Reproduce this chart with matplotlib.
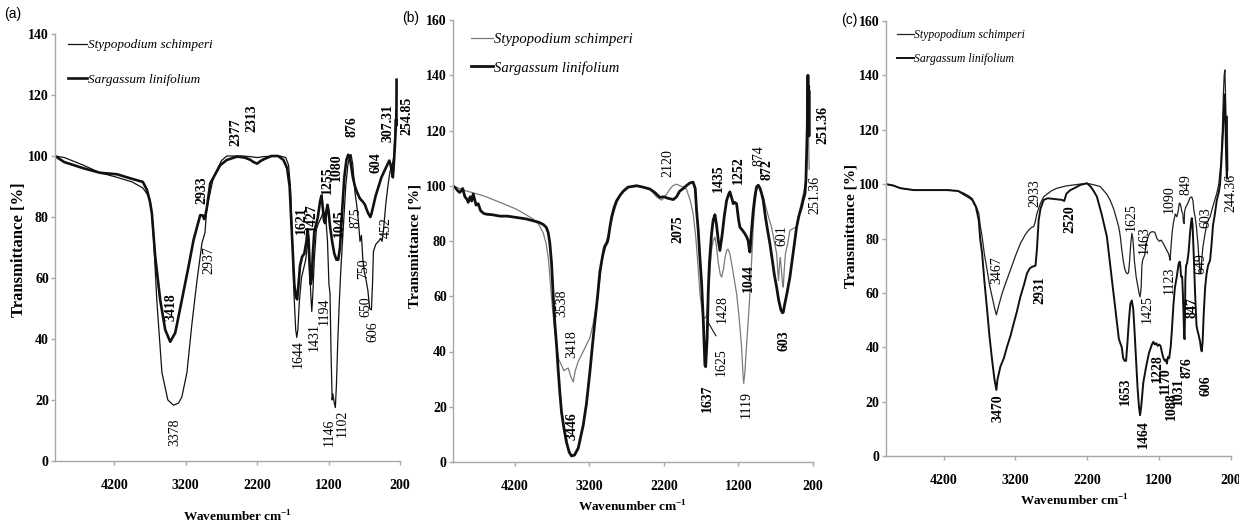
import matplotlib
matplotlib.use("Agg")
import matplotlib.pyplot as plt
from matplotlib.lines import Line2D
from matplotlib import font_manager as fm

plt.rcParams["mathtext.fontset"] = "custom"
plt.rcParams["mathtext.rm"] = "Liberation Serif"
plt.rcParams["mathtext.bf"] = "Liberation Serif:bold"

# ---------------- data (wavenumber cm-1, transmittance %) ----------------
a_sty_wn = [5030,4900,4634,4400,4160,3950,3800,3724,3680,3650,3603,3533,3450,3371,3300,3254,3183,3113,3043,2973,2941,2930,2904,2811,2700,2624,2400,2300,2200,2100,1950,1880,1800,1760,1735,1710,1685,1660,1645,1630,1610,1580,1550,1520,1490,1470,1450,1435,1420,1400,1370,1340,1300,1270,1240,1215,1195,1180,1165,1150,1140,1120,1105,1090,1070,1050,1030,1010,990,960,930,905,885,860,830,806,780,760,740,720,700,680,650,625,600,585,572,540,500,470,452,430,400,370,340,320,300,285,270,262,255,252]
a_sty_T = [100,99.5,97,94.5,93,91.5,89.5,87,83,73,52,29,20,18.3,19,21,29,45,59,71.4,74,75,83,93,98.5,100,100,99.8,99.5,99.8,100,100,99.5,97,90,75,55,43,40.5,43,52,60,63,66,72,67,55,49,55,66,76,78,80,82,80,72,58,55,35,20,22,19,17.5,25,40,52,62,70,78,90,97,100,100.5,97,88,84,78,72,74,66,62,60,56,50,49.5,58,68.7,71,72,73,72,76,84,90,95,96,98,100,108,112,115,112]
a_sar_wn = [5030,4900,4634,4400,4160,3950,3800,3743,3700,3673,3627,3557,3487,3417,3347,3254,3161,3091,2997,2960,2941,2925,2904,2857,2717,2624,2483,2377,2300,2250,2200,2150,2100,2000,1906,1832,1780,1745,1725,1700,1680,1660,1640,1620,1600,1570,1540,1510,1495,1480,1465,1450,1435,1420,1400,1380,1350,1320,1300,1285,1265,1250,1230,1215,1200,1180,1150,1120,1090,1065,1040,1010,980,950,925,905,885,860,830,800,760,720,690,660,640,615,600,570,540,500,460,420,380,350,330,315,300,290,280,270,262,256,250,248]
a_sar_T = [100,98,96,94.5,94,92.5,91.5,88.9,85,81,67,52.8,43,39.1,42,52.8,63.7,72.4,80.6,80.5,79.3,80.5,83,91,97,98.7,99.8,99.5,98.8,98,97.5,98.4,99,100,100,98.7,96,90,80,68,58,54,53,58,64,67,68,72,76,73,64,58,60,68,75,77,80,85,87,84,79,78,82,84,82,77,72,68,66,66,70,82,93,98.7,100.4,100,97,93,90,88,86,85,84,82,81,80,81,84,87,90,93,95,97,98.5,97,95,93,96,100,104,108,112,110,125]

b_sty_wn = [5030,4900,4625,4400,4177,4050,3954,3880,3820,3780,3752,3730,3708,3675,3641,3610,3574,3540,3520,3484,3450,3417,3390,3350,3283,3230,3193,3150,3104,3060,3014,2970,2930,2880,2830,2780,2700,2570,2480,2380,2299,2232,2190,2150,2120,2080,2033,1986,1940,1899,1850,1809,1775,1742,1717,1690,1672,1650,1628,1610,1590,1560,1540,1516,1500,1470,1445,1426,1400,1380,1359,1340,1315,1280,1250,1225,1190,1158,1140,1130,1115,1090,1060,1046,1025,1002,980,957,935,910,890,867,840,800,756,720,688,670,662,648,638,625,610,599,585,570,540,510,470,420,380,331,300,286,275,268,262,255,251]
b_sty_T = [100,98.5,96.4,94,91.5,89.5,87.9,86,83,79,74,67,59.4,50,42.4,37,35,33,33.5,34,31,29,33,36.4,40,43,45,50,57,66,77.6,80,84,89.7,94,97,99.5,100,99.5,98.6,96,94.8,96,97.5,98.8,100,100.6,100,99.5,98.8,95,90,82,71,61,55,52.5,52,53,58,67,77,80,81.4,79,72,68,66.9,70,74,76.6,77,75.4,70,65,60.9,52,41.5,32,28.5,32,43,55,61,72,85,93,98.3,100.2,99.5,97.2,96,93,89,85,80,75.4,68,65.7,72,74,70,65,63.3,70,75.4,79,83.8,84.5,85,91,97,101,106,120,138,125,110,106]
b_sar_wn = [5030,4990,4960,4938,4900,4870,4840,4826,4800,4780,4759,4740,4720,4692,4660,4620,4580,4500,4401,4300,4177,4050,3954,3880,3820,3780,3752,3730,3708,3685,3663,3640,3618,3596,3574,3540,3506,3470,3440,3400,3350,3283,3240,3193,3160,3126,3090,3059,3020,2992,2960,2947,2925,2903,2870,2836,2790,2746,2680,2567,2480,2388,2320,2254,2200,2150,2075,2030,1990,1941,1900,1852,1809,1780,1762,1740,1720,1695,1670,1650,1640,1620,1605,1590,1561,1540,1516,1495,1470,1449,1420,1390,1359,1330,1315,1290,1270,1250,1225,1200,1181,1150,1113,1090,1069,1055,1046,1030,1002,980,957,935,910,890,867,840,810,778,740,720,688,660,630,610,599,580,550,510,470,440,420,390,353,330,308,295,285,277,268,262,258,254,251]
b_sar_T = [100,99,98,97.6,99,96,95,94,96,94.5,97,95,93,93.5,91,90,89.7,89.5,89,89,88.5,88,87.3,86.8,86,85,83,79,72,60,50,42,33,25,18,12,7,3.5,2.2,2.5,5,13.3,21,32.7,42,51,60,69,75,78,79.5,81,85,88.5,92,94.5,96.5,98,99.5,100,99.5,98.8,97.5,95.8,96,95.5,95,96,98,99,100,101,101.3,99,91,84,75,65,50,35,34.5,45,62,72,82.6,87.5,89.5,86,80,76.6,82,89,94.7,97,97.8,95.5,93.5,94,93.5,88,85,84,82.6,81.5,80,77,76,82,91,96,99.6,100.2,99,97.2,94.7,89,84,79,72,68,63.3,58.5,55,54,54.2,57,61,66.9,75,81,85,89,92.3,95,97.1,102,112,121,140,125,136,118,134]

c_sty_wn = [5000,4900,4800,4612,4400,4149,4000,3917,3850,3779,3740,3709,3690,3663,3630,3593,3560,3524,3490,3464,3430,3385,3330,3269,3200,3130,3060,3015,2980,2945,2925,2899,2850,2806,2700,2621,2500,2390,2300,2204,2100,2019,1929,1880,1834,1790,1760,1740,1720,1700,1680,1660,1640,1625,1610,1595,1579,1565,1545,1520,1500,1480,1465,1450,1440,1430,1400,1380,1350,1320,1290,1260,1230,1200,1170,1139,1110,1090,1070,1055,1047,1040,1020,1000,975,954,935,920,908,895,885,870,862,852,845,830,800,770,746,730,715,699,680,660,645,630,620,608,590,560,530,491,450,398,370,340,320,306,295,285,278,270,262,257,252,250,245]
c_sty_T = [100,99.5,98.5,97.8,97.8,97.8,97.5,96,95,93.6,91.5,89.3,85,80.7,74,68.4,63,58.6,54.5,51.9,55.5,59.8,64,68.4,73.5,78.2,81.5,83.1,84,84.4,86,89.3,93,95.4,97.5,98.5,99.3,99.7,100,100.3,99.7,99.1,96.3,94,91,87,84,80.7,76,72,69,67.5,67,67.5,72,78,81.9,80,72,66,63,60,58.5,62,70,72,74,78,81,82.3,82.5,82.3,80,79,79.4,78,76.5,75.5,74.5,73,72,75,82,86,89,88,90,93,92.9,91.5,90,89,86,85.5,90,91.5,93,95,95.3,94,90,88,84,78,72,67.1,67.5,72,77,82,86,88,92,96.6,100,108,120,133,140,142,135,120,110,104,125,118,105]
c_sar_wn = [5000,4900,4800,4612,4400,4149,4000,3917,3850,3800,3779,3750,3710,3690,3663,3630,3593,3560,3524,3490,3464,3450,3408,3360,3316,3270,3223,3180,3130,3080,3038,3000,2968,2920,2900,2876,2850,2806,2750,2650,2550,2520,2490,2435,2380,2297,2250,2204,2150,2100,2066,2000,1927,1880,1836,1800,1760,1720,1700,1680,1660,1640,1620,1600,1580,1560,1540,1520,1500,1480,1465,1450,1420,1380,1340,1301,1280,1260,1240,1220,1200,1180,1160,1140,1120,1100,1093,1075,1060,1040,1023,1000,980,954,930,915,905,895,880,870,860,852,846,840,835,825,810,790,770,755,745,735,720,700,680,665,650,630,615,606,595,580,560,540,520,491,470,450,430,398,370,352,330,310,300,290,283,275,268,262,257,255]
c_sar_T = [100,99.5,98.5,97.8,97.8,97.8,97.5,96.5,95.5,94.5,93,91.7,86.8,80,74.6,64,53.7,44,35.3,28,24.3,28,32.9,36,40.2,44,48.8,53,58.6,63,67.2,69,69.6,70,76,86.8,91,94.2,94.8,94.5,94.2,93.8,96.5,97.8,98.5,99.7,100,100.3,99,97,95.4,89,80.7,70,60,52,43,40,36,35,35,42,50,56,57.2,54,45,35,25,18,15,18,27,33,38,41,42,41,41.5,40.5,41,40.5,38,36,35,35.5,34,36.5,36,40,46,56,62,66,70.5,71.5,70,66,66,60,52,44,43,52,65,70,71,75,82,86,87.5,85,75,60,48,46,44.5,42,39,38.5,42,52,62,67,70,72,78,85,88,94,97,100,110,120,127,133,132,120,110,105,102,113]

# peak labels: (text, wavenumber, transmittance, bold)
a_labels = [("3418",3403,50.5,True),("3378",3347,9.5,False),("2933",2969,88.9,True),("2937",2871,66,False),
            ("2377",2494,107.9,True),("2313",2270,112.5,True),("1621",1585,79,True),("1427",1440,80,True),
            ("1255",1214,92,True),("1080",1095,96.4,True),("1045",1053,78,True),("876",876,109.5,True),
            ("875",815,79.7,False),("604",536,97.7,True),("452",396,76.7,False),("307.31",368,110.8,True),
            ("254.85",102,113,True),("1644",1620,35,False),("1431",1403,40.6,False),("1194",1263,49,False),
            ("1146",1193,9.5,False),("1102",1011,12.5,False),("650",675,50.5,False),("750",703,63,False),
            ("606",585,42.3,False)]
b_labels = [("2120",2147,108.3,False),("2075",2013,84.2,True),("1435",1462,102.7,True),("1252",1194,105.6,True),
            ("874",926,111,False),("872",811,106,True),("601",617,82,False),("251.36",67,122,True),
            ("251.36",174,96.5,False),("3538",3569,57.3,False),("3418",3435,42.8,False),("3446",3435,13,True),
            ("1637",1610,23.2,True),("1625",1426,36.3,False),("1428",1415,55.5,False),("1119",1090,20.7,False),
            ("1044",1060,66.4,True),("603",590,44,True)]
c_labels = [("2933",2925,96.6,False),("2520",2439,87,True),("1625",1591,87.8,False),("1463",1410,79.4,False),
            ("1090",1062,94.4,False),("849",826,100,False),("603",548,87.8,False),("244.36",200,96.6,False),
            ("3467",3458,68.3,False),("2931",2856,61,True),("3470",3440,17.5,True),("1653",1674,23.8,True),
            ("1425",1368,54,False),("1464",1423,8,True),("1228",1230,32.3,True),("1170",1118,27.9,True),
            ("1088",1035,18.3,True),("1031",937,23.8,True),("876",812,32.6,True),("847",742,54.7,True),
            ("606",548,25.7,True),("1123",1062,64.6,False),("649",617,70.8,False)]

species = ["Stypopodium schimperi", "Sargassum linifolium"]
xticks = [4200, 3200, 2200, 1200, 200]

# ---------------- figure ----------------
W, H = 1239, 527
fig = plt.figure(figsize=(W/100, H/100), dpi=100)
SERIF = "Liberation Serif"

def px(x, y):
    return x / W, 1 - y / H

panels = [
    dict(rect=(55, 34, 400, 461), xmax=5030, ymax=140, sty=(a_sty_wn, a_sty_T), sar=(a_sar_wn, a_sar_T),
         labels=a_labels, thin=dict(color="#111111", lw=0.9), thick=dict(color="#111111", lw=1.9),
         tag="(a)", tagpos=(13, 14), ylab=(19, 250, 12), xlab=(238, 517),
         leg=(68, 39, 9.5, 1.7, 1.45)),
    dict(rect=(453, 20, 813, 462), xmax=5030, ymax=160, sty=(b_sty_wn, b_sty_T), sar=(b_sar_wn, b_sar_T),
         labels=b_labels, thin=dict(color="#7a7a7a", lw=0.9), thick=dict(color="#111111", lw=2.0),
         tag="(b)", tagpos=(411, 18), ylab=(415, 246, 11), xlab=(633, 507),
         leg=(471, 33, 10.5, 1.0, 1.5)),
    dict(rect=(886, 21, 1231, 456), xmax=5000, ymax=160, sty=(c_sty_wn, c_sty_T), sar=(c_sar_wn, c_sar_T),
         labels=c_labels, thin=dict(color="#222222", lw=0.9), thick=dict(color="#111111", lw=1.4),
         tag="(c)", tagpos=(849, 20), ylab=(851, 226, 11), xlab=(1075, 501),
         leg=(897, 29, 8.5, 1.0, 1.4)),
]

for p in panels:
    l, t, r, b = p["rect"]
    ax = fig.add_axes([l / W, 1 - b / H, (r - l) / W, (b - t) / H])
    ax.plot(p["sty"][0], p["sty"][1], **p["thin"], solid_joinstyle="round")
    ax.plot(p["sar"][0], p["sar"][1], **p["thick"], solid_joinstyle="round")
    ax.set_xlim(p["xmax"], 200)
    ax.set_ylim(0, p["ymax"])
    ax.set_xticks(xticks)
    ax.set_yticks(range(0, p["ymax"] + 1, 20))
    for s in ("top", "right"):
        ax.spines[s].set_visible(False)
    for s in ("left", "bottom"):
        ax.spines[s].set_color("#a8a8a8")
        ax.spines[s].set_linewidth(1.0)
    ax.tick_params(axis="both", colors="#a8a8a8", length=3, width=1, labelcolor="black")
    ax.tick_params(axis="x", pad=10)
    ax.tick_params(axis="y", pad=1.5)
    for lab in ax.get_xticklabels() + ax.get_yticklabels():
        lab.set_fontfamily(SERIF)
        lab.set_fontweight("bold")
        lab.set_fontsize(10)
    for txt, x, y, bold in p["labels"]:
        ax.text(x, y, txt, rotation=90, ha="center", va="center", fontsize=10,
                family=SERIF, fontweight="bold" if bold else "normal", clip_on=False)
    if p["tag"] == "(b)":
        ax.plot([1606, 1503], [50.5, 45.7], color="#111111", lw=0.8)
    # legend
    lx, ly, lfs, lsp, hl = p["leg"]
    handles = [Line2D([], [], **p["thin"]), Line2D([], [], **p["thick"])]
    ax.legend(handles, species, loc="upper left", bbox_to_anchor=px(lx, ly),
              bbox_transform=fig.transFigure, frameon=False, borderpad=0, borderaxespad=0,
              handlelength=hl, handletextpad=0.05, labelspacing=lsp,
              prop=fm.FontProperties(family=SERIF, style="italic", size=lfs))
    fig.text(*px(*p["tagpos"]), p["tag"], ha="center", va="center", fontsize=10,
             family="Liberation Sans")
    yx, yy, yfs = p["ylab"]
    fig.text(*px(yx, yy), "Transmittance [%]", rotation=90, ha="center", va="center",
             fontsize=yfs, family=SERIF, fontweight="bold")
    fig.text(*px(*p["xlab"]), r"Wavenumber cm$^{\mathbf{-1}}$", ha="center", va="center",
             fontsize=9.5, family=SERIF, fontweight="bold")

fig.savefig("out.png", dpi=100)
